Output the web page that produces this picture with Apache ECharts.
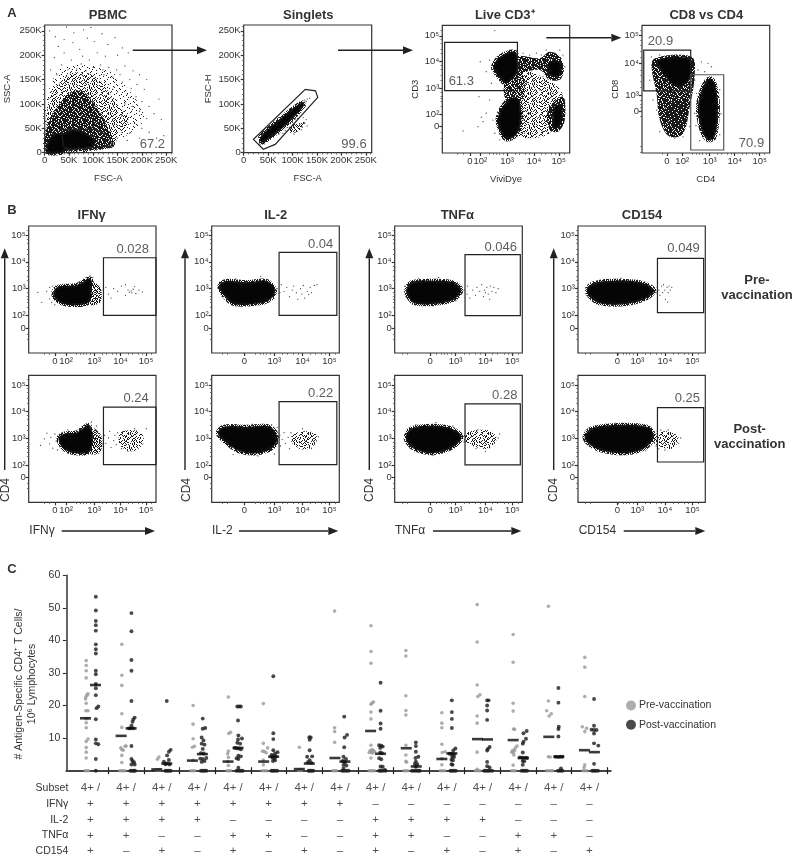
<!DOCTYPE html>
<html>
<head>
<meta charset="utf-8">
<style>html,body{margin:0;padding:0;background:#fff}#chart{width:793px;height:855px}</style>
<script src="https://cdn.jsdelivr.net/npm/echarts@6/dist/echarts.min.js"></script>
</head>
<body>
<div id="chart"></div>
<script>
// ---- axis ticks ----
const kTicks = [0, 50, 100, 150, 200, 250];
const kLabels = ['0', '50K', '100K', '150K', '200K', '250K'];
const kMinor = [10, 20, 30, 40, 60, 70, 80, 90, 110, 120, 130, 140, 160, 170, 180, 190, 210, 220, 230, 240, 260];
const cd3XTicks = [1.57, 1.97, 3, 4.04, 4.99];
const cd3YTicks = [1.53, 1.99, 3, 4.02, 4.98];
const cd8XTicks = [1.29, 1.9, 3, 4, 5];
const cd8YTicks = [2.47, 3, 4.09, 5.02];
const decadeLabels = ['0', '10²', '10³', '10⁴', '10⁵'];
const cd8YLabels = ['0', '10³', '10⁴', '10⁵'];
const bYTicks = [1.53, 1.99, 3, 4.01, 4.99];
const ifnXTicks = [1.5, 1.93, 3, 4.01, 4.99];
const il2XTicks = [1.91, 3, 4.02, 5];
const tnfXTicks = [2.1, 3, 4.05, 5];
const cd154XTicks = [2.27, 3, 4, 5];
const noHundredLabels = ['0', '10³', '10⁴', '10⁵'];
const biexMinor = [1.1, 1.3, 2.3, 2.48, 2.6, 2.7, 2.85, 3.3, 3.48, 3.7, 3.85, 4.3, 4.48, 4.7, 4.85, 5.2];

// ---- panel A: populations (density outlines and single events) ----
const pbmcFaint = [[4, 110], [30, 170], [70, 180], [130, 170], [180, 120], [205, 70], [175, 40], [150, 30], [4, 60]];
const pbmcLight = [[4, 65], [11, 113], [38, 151], [65, 165], [107, 155], [148, 100], [172, 68], [150, 30], [138, 10], [4, 4]];
const pbmcMid = [[4, 0], [4, 52], [21, 86], [45, 117], [76, 127], [107, 93], [128, 55], [141, 24], [137, 10], [38, 3]];
const pbmcCore = [[6, 0], [6, 21], [18, 38], [39, 41], [56, 48], [83, 41], [104, 24], [97, 10], [45, 6], [35, 0]];
const pbmcGate = [[35, 48], [38, 14], [49, 6], [138, 14], [133, 34], [104, 48]];
const pbmcDots = [[10, 250], [22, 238], [45, 258], [60, 246], [80, 252], [95, 257], [28, 218], [40, 205], [58, 226], [72, 212], [88, 235], [102, 228], [118, 244], [130, 222], [145, 236], [160, 215], [172, 205], [150, 200], [125, 198], [108, 205], [92, 190], [75, 182], [55, 190], [35, 180], [20, 195], [12, 170], [25, 160], [48, 170], [66, 172], [85, 168], [100, 175], [115, 180], [132, 175], [148, 170], [165, 178], [182, 168], [195, 160], [210, 150], [205, 130], [190, 140], [175, 150], [160, 145], [140, 155], [122, 160], [150, 125], [170, 120], [188, 115], [200, 105], [215, 95], [225, 80], [240, 68], [210, 70], [195, 85], [180, 95], [165, 100], [185, 60], [200, 50], [215, 42], [230, 30], [245, 35], [195, 30], [175, 40], [160, 55], [170, 25], [150, 30], [158, 75], [140, 130], [125, 140], [105, 150], [90, 150], [70, 155], [50, 150], [30, 140], [18, 125], [8, 110], [235, 110], [120, 170], [78, 198], [40, 232], [155, 160], [178, 132]];

const singletCore = [[33.6, 31], [47, 46], [82, 76], [119, 103], [123, 96], [88.5, 58.5], [54, 31], [37, 20.6]];
const singletSide = [[95, 55], [119, 62], [126, 65], [112.5, 45], [95, 41]];
const singletGate = [[20, 27.5], [40, 7], [64.5, 17], [151.6, 113.5], [147, 127], [126, 130]];
const singletDots = [[120, 103], [125, 108], [130, 110], [135, 112], [128, 105], [112, 100], [116, 92], [110, 85], [105, 80], [98, 72], [100, 62], [105, 68], [110, 70], [115, 58], [120, 52], [125, 60], [118, 47], [108, 44], [130, 55], [95, 60], [90, 52], [85, 45], [70, 50], [60, 36], [50, 28], [42, 18], [33, 16], [72, 38], [80, 40], [128, 68], [103, 38], [122, 72]];

const cd3Light = [[3.42, 3.62], [4.58, 3.3], [5.15, 2.67], [4.64, 1.28], [3.36, 1.28]];
const cd3Band = [[3.42, 4.19], [4.26, 4.13], [4.64, 4.38], [5.09, 4.13], [5.09, 3.37], [4.64, 3.3], [4.26, 3.68], [3.42, 3.62]];
const cd3Column = [[2.91, 3.18], [3.55, 3.62], [3.62, 2.54], [3.03, 2.42]];
const cd3LowRight = [[4.58, 2.16], [5.15, 2.67], [5.22, 1.78], [4.96, 1.34], [4.64, 1.41]];
const cd3Live = [[2.46, 3.81], [2.72, 4.19], [3.29, 4.38], [3.42, 4.06], [3.42, 3.62], [3.1, 3.24], [2.91, 3.18], [2.72, 3.37], [2.53, 3.62]];
const cd3BandCore = [[4.58, 3.94], [5.03, 4], [5.06, 3.49], [4.64, 3.49]];
const cd3Low = [[2.65, 1.91], [3.03, 2.54], [3.42, 2.61], [3.55, 1.78], [3.36, 1.22], [2.97, 1.05], [2.72, 1.41]];
const cd3LowRightCore = [[4.77, 2.23], [5.09, 2.35], [5.09, 1.66], [4.83, 1.47]];
const cd3Gate = [[0.6, 4.73], [3.4, 4.73], [3.4, 2.9], [0.6, 2.9]];
const cd3Dots = [[2.53, 5.18], [1.97, 4], [1.92, 2.67], [2.01, 1.89], [1.88, 1.53], [2.08, 1.72], [1.31, 1.37], [2.2, 2.04], [2.33, 2.54], [2.4, 3.18], [2.2, 3.62], [2.33, 4.06], [4.51, 4.44], [4.32, 4.25], [4.13, 4.32], [3.87, 4.25], [3.62, 4.32], [5.03, 4.44], [5.15, 4.25], [5.22, 3.81], [4.38, 3.43], [4, 3.3], [3.74, 3.18], [2.46, 1.78], [2.53, 1.28], [2.72, 1.03], [3.17, 1.03], [3.68, 1.28], [4.06, 1.53], [4.38, 1.34], [5.22, 2.54], [4.77, 2.8], [4.26, 2.92], [4, 2.54], [3.87, 2.04], [4.26, 1.91]];

const cd8Column = [[0.67, 3.97], [0.8, 4.24], [2.27, 4.3], [2.4, 3.69], [2.2, 2.63], [1.93, 1.74], [1.4, 1.63], [1, 2.19], [0.87, 3.08]];
const cd8Top = [[0.87, 4.19], [2.2, 4.24], [2.27, 3.69], [2.07, 3.41], [1.67, 3.3], [1.27, 3.58], [1.07, 3.8]];
const cd8Lower = [[1.27, 2.74], [2.07, 2.74], [1.93, 1.97], [1.47, 1.97]];
const cd4Core = [[2.73, 3.3], [3, 3.58], [3.2, 3.41], [3.33, 2.63], [3.2, 1.63], [2.93, 1.52], [2.67, 1.86], [2.53, 2.63]];
const cd8Gate = [[0.36, 4.52], [2.24, 4.52], [2.24, 3.16], [0.36, 3.16]];
const cd4Gate = [[2.24, 3.7], [3.56, 3.7], [3.56, 1.19], [2.24, 1.19]];
const cd8Dots = [[0.67, 4.3], [1, 4.36], [1.67, 4.36], [2.33, 4.19], [2.67, 4.13], [2.93, 4.08], [3.07, 3.97], [2.53, 3.86], [2.8, 3.8], [2.4, 3.52], [2.47, 3.08], [2.4, 2.41], [2.2, 1.97], [1.93, 1.63], [1.27, 1.74], [0.87, 2.52], [0.73, 2.86], [0.6, 3.52], [1, 1.8], [1.6, 1.58], [3.4, 3.2], [3.45, 2.4], [2.45, 2], [3.4, 1.7], [2.6, 1.5]];

// ---- panel B: CD4 vs cytokine ----
const ifnPreCore = [[1.45, 2.89], [1.64, 3.08], [2.34, 3.14], [2.85, 3.39], [2.91, 2.89], [2.75, 2.45], [1.83, 2.43], [1.51, 2.64]];
const ifnPreSide = [[2.91, 3.2], [3.23, 3.08], [3.25, 2.51], [2.85, 2.41]];
const ifnPreDots = [[0.85, 2.86], [1, 2.49], [1.19, 2.9], [1.3, 3.05], [1.3, 2.62], [1.4, 3.1], [1.38, 2.48], [1.5, 2.4], [2.4, 3.25], [2.6, 3.35], [2.85, 3.48], [2.95, 3.42], [3.35, 2.95], [3.45, 3.05], [3.55, 2.8], [3.65, 2.65], [3.75, 3], [3.9, 2.9], [4.05, 3.1], [4.2, 2.75], [4.3, 2.95], [4.35, 2.87], [4.42, 2.92], [4.45, 2.85], [4.5, 2.98], [4.55, 3.08], [4.6, 2.82], [4.72, 2.95], [4.85, 2.88], [4.2, 3.15]];
const ifnPostCore = [[1.64, 2.99], [1.89, 3.17], [2.34, 3.21], [2.78, 3.49], [2.95, 3.11], [2.82, 2.49], [2.27, 2.43], [1.83, 2.61]];
const ifnPostSide = [[2.95, 3.36], [3.29, 3.05], [3.23, 2.46], [2.85, 2.43]];
const ifnPostCluster = [[3.99, 3.17], [4.44, 3.3], [4.82, 3.17], [4.89, 2.8], [4.44, 2.49], [3.99, 2.74]];
const ifnPostDots = [[0.95, 2.72], [1.1, 2.97], [1.2, 3.18], [1.3, 2.78], [1.35, 3.02], [1.42, 2.62], [1.5, 3.15], [1.55, 2.88], [1.6, 2.55], [2, 3.3], [2.5, 3.35], [2.9, 3.6], [3.1, 3.45], [3.4, 3.1], [3.45, 2.8], [3.55, 3], [3.6, 3.25], [3.65, 2.65], [3.75, 2.9], [3.8, 3.1], [3.85, 2.75], [3.9, 3.2], [3.95, 2.95], [4.05, 2.6], [4.1, 3.25], [4.3, 2.5], [4.55, 3.35], [5, 3.35]];

const il2PreCore = [[1, 3.14], [1.27, 3.29], [1.99, 3.24], [2.72, 3.29], [3.02, 2.95], [2.9, 2.64], [2.48, 2.45], [1.51, 2.43], [1.15, 2.76]];
const il2PreDots = [[0.95, 3], [1.1, 2.7], [1.6, 2.36], [2.2, 2.38], [2.8, 2.5], [1.6, 3.37], [2.5, 3.45], [3.1, 3], [3.2, 2.85], [3.25, 3.15], [3.35, 2.9], [3.45, 3.05], [3.55, 2.7], [3.65, 2.95], [3.7, 3.1], [3.8, 2.85], [3.85, 2.6], [3.95, 3], [4, 2.8], [4.05, 3.12], [4.1, 2.65], [4.2, 2.9], [4.25, 2.78], [4.3, 3.05], [4.35, 2.85], [4.45, 3.12], [4.55, 3.15]];
const il2PostCore = [[0.94, 3.17], [1.15, 3.42], [1.99, 3.42], [2.84, 3.42], [3.11, 2.99], [2.9, 2.61], [2.36, 2.43], [1.75, 2.49], [1.27, 2.8]];
const il2PostCluster = [[3.65, 3.1], [4.1, 3.25], [4.5, 3.15], [4.5, 2.8], [4.1, 2.55], [3.65, 2.8]];
const il2PostDots = [[1.6, 3.5], [2.2, 3.52], [2.9, 3.5], [3.1, 3.4], [1.5, 2.38], [2.4, 2.33], [3, 2.4], [3.2, 3.1], [3.22, 2.7], [3.28, 2.95], [3.35, 3.2], [3.4, 2.8], [3.5, 3.02], [3.55, 2.6], [3.6, 3.2], [4.6, 3.05], [4.02, 3.35], [4.35, 2.6]];

const tnfPreCore = [[1.26, 2.95], [1.44, 3.24], [2.2, 3.3], [2.91, 3.24], [3.2, 2.95], [2.91, 2.58], [2.2, 2.43], [1.55, 2.45], [1.32, 2.7]];
const tnfPreDots = [[1.2, 3.1], [1.25, 2.7], [1.7, 3.38], [2.4, 3.42], [2.2, 2.36], [3, 2.55], [3.3, 2.95], [3.4, 2.8], [3.42, 3.1], [3.5, 2.65], [3.6, 2.95], [3.7, 2.75], [3.75, 3.05], [3.85, 2.9], [3.92, 3.15], [3.98, 2.7], [4.02, 2.95], [4.05, 2.85], [4.1, 3.05], [4.15, 2.8], [4.2, 2.6], [4.22, 3.1], [4.28, 2.9], [4.35, 3.05], [4.42, 2.85], [4.5, 3]];
const tnfPostCore = [[1.24, 3.05], [1.44, 3.36], [2.2, 3.46], [2.85, 3.36], [3.2, 3.05], [2.91, 2.66], [2.2, 2.43], [1.61, 2.55], [1.32, 2.8]];
const tnfPostCluster = [[3.3, 3.15], [4.1, 3.3], [4.45, 3], [4.15, 2.6], [3.4, 2.8]];
const tnfPostDots = [[1.6, 3.5], [2.3, 3.58], [2.9, 3.45], [2.2, 2.34], [1.4, 2.6], [3.22, 3.1], [3.3, 2.85], [3.72, 2.6], [3.78, 3.3], [4.05, 2.5], [4.5, 3], [4.55, 3.15]];

const cd154PreCore = [[1.17, 2.95], [1.39, 3.2], [2.12, 3.3], [3.08, 3.24], [3.61, 2.95], [3.33, 2.64], [2.6, 2.43], [1.63, 2.45], [1.27, 2.7]];
const cd154PreDots = [[1.12, 3.05], [1.2, 2.7], [1.8, 3.35], [2.4, 3.4], [3, 3.32], [2.2, 2.36], [3.5, 2.75], [3.68, 2.85], [3.72, 3.05], [3.78, 2.95], [3.82, 2.75], [3.88, 3.1], [3.92, 2.85], [3.95, 3.15], [4, 2.95], [4.02, 2.6], [4.08, 3.05], [4.12, 2.85], [4.15, 3.1], [4.2, 2.95], [4.25, 3.05], [4.1, 2.5]];
const cd154PostCore = [[1.08, 3.05], [1.33, 3.36], [2.24, 3.49], [3.33, 3.42], [3.59, 3.11], [3.33, 2.66], [2.6, 2.43], [1.63, 2.55], [1.21, 2.8]];
const cd154PostCluster = [[3.6, 3.1], [4.1, 3.25], [4.5, 3], [4.25, 2.6], [3.6, 2.8]];
const cd154PostDots = [[1.5, 3.45], [2.2, 3.56], [3.2, 3.5], [2.4, 2.36], [3.3, 2.52], [3.68, 2.7], [3.72, 3.25], [3.78, 2.6], [3.85, 3.3], [4, 2.55], [4.12, 3.3], [4.5, 2.8], [4.58, 3]];

const ifnGate = [[3.36, 4.16], [5.37, 4.16], [5.37, 2], [3.36, 2]];
const il2Gate = [[3.17, 4.36], [5.27, 4.36], [5.27, 2], [3.17, 2]];
const tnfGate = [[3.33, 4.28], [5.28, 4.28], [5.28, 1.99], [3.33, 1.99]];
const cd154Gate = [[3.73, 4.14], [5.41, 4.14], [5.41, 2.1], [3.73, 2.1]];

// ---- panel C: subsets ----
const groupEdges = [1.5, 2.5, 3.5, 4.5, 5.5, 6.5, 7.5, 8.5, 9.5, 10.5, 11.5, 12.5, 13.5, 14.5, 15.5];
const yTickValues = [10, 20, 30, 40, 50, 60];
const subsetRowNames = ['Subset', 'IFNγ', 'IL-2', 'TNFα', 'CD154'];
const subsetLabel = '4+ /';
const ifnRow = ['+', '+', '+', '+', '+', '+', '+', '+', '–', '–', '–', '–', '–', '–', '–'];
const il2Row = ['+', '+', '+', '+', '–', '–', '–', '–', '+', '+', '+', '+', '–', '–', '–'];
const tnfRow = ['+', '+', '–', '–', '+', '+', '–', '–', '+', '+', '–', '–', '+', '+', '–'];
const cd154Row = ['+', '–', '+', '–', '+', '–', '+', '–', '+', '–', '+', '–', '+', '–', '+'];
const medianPre = [16.1, 10.7, 0.4, 3.1, 2.8, 2.8, 0.5, 3.9, 12.2, 6.9, 3.6, 9.7, 9.4, 10.4, 6.3];
const medianPost = [26.3, 13, 2.2, 5.1, 7, 4.3, 2.2, 2.8, 5.2, 1.3, 5.3, 9.6, 3.9, 4.3, 5.7];
const preValues = [
  [0.88, 33.8], [0.88, 32.3], [0.88, 30.7], [0.88, 28.5], [0.93, 23.6], [0.9, 23.2], [0.87, 22.6], [0.86, 22], [0.88, 20.7], [0.87, 18.4], [0.93, 18.4], [0.87, 16], [0.92, 16], [0.88, 14.7], [0.88, 13.2], [0.93, 9.7], [0.88, 9], [0.88, 7.1], [0.88, 5.7], [0.88, 3.9], [0.86, 0], [0.9, 0], [0.94, 0],
  [1.88, 38.8], [1.88, 29.3], [1.88, 26.2], [1.88, 17.5], [1.88, 13.3], [2, 7.6], [1.97, 7.5], [1.85, 7], [1.88, 6.5], [1.92, 6.3], [1.88, 4.7], [1.88, 2.5], [1.82, 0], [1.87, 0], [1.92, 0], [1.96, 0],
  [2.92, 4.2], [2.88, 3.5], [2.85, 0.3], [2.9, 0.3], [2.95, 0.3],
  [3.88, 20], [3.88, 14.3], [3.88, 9.8], [3.86, 7.2], [3.92, 7.5], [3.88, 3.2], [3.82, 0], [3.87, 0], [3.92, 0],
  [4.87, 22.6], [4.93, 11.8], [4.88, 11.4], [4.87, 6], [4.85, 5.2], [4.87, 4.1], [4.85, 2.8], [4.87, 1.6], [4.83, 0], [4.88, 0], [4.93, 0],
  [5.85, 20.6], [5.85, 8.4], [5.97, 7], [5.83, 6], [5.88, 5.9], [5.93, 5.5], [5.85, 3.3], [5.85, 1.8], [5.82, 0], [5.88, 0], [5.95, 0],
  [6.86, 7.2], [6.83, 0.2], [6.88, 0.2], [6.93, 0.2],
  [7.85, 49], [7.85, 13.2], [7.85, 12], [7.85, 8.7], [7.8, 0], [7.85, 0], [7.9, 0],
  [8.87, 44.5], [8.87, 36.6], [8.87, 33], [8.94, 21.1], [8.9, 20.8], [8.87, 20.4], [8.87, 18], [8.87, 15.9], [8.87, 7.8], [8.85, 6.2], [8.9, 6.4], [8.93, 6.3], [8.97, 5.9], [8.87, 5.6], [8.92, 5.4], [8.82, 5.6], [8.87, 3.9], [8.82, 0], [8.87, 0], [8.92, 0], [8.96, 0],
  [9.85, 36.9], [9.85, 35.2], [9.85, 23], [9.85, 18.5], [9.85, 17.1], [9.85, 7.8], [9.85, 4.8], [9.85, 2.9], [9.87, 2.6], [9.8, 0], [9.85, 0], [9.9, 0],
  [10.86, 17.8], [10.86, 14.6], [10.86, 13.2], [10.86, 8.1], [10.87, 5.6], [10.95, 5.8], [10.86, 3.7], [10.86, 1.8], [10.82, 0], [10.87, 0], [10.93, 0],
  [11.85, 51], [11.85, 39.5], [11.85, 26.3], [11.93, 23.3], [11.87, 22.8], [11.85, 16.8], [11.85, 14.6], [11.85, 5.7], [11.85, 0.4], [11.8, 0], [11.87, 0], [11.92, 0],
  [12.86, 41.8], [12.86, 33.3], [12.86, 20.7], [12.86, 18.3], [12.87, 12.8], [12.9, 12.7], [12.97, 7.6], [12.92, 7], [12.85, 6.3], [12.9, 6.2], [12.87, 5.5], [12.82, 5.7], [12.88, 4.8], [12.86, 1.7], [12.82, 0], [12.87, 0], [12.92, 0],
  [13.85, 50.5], [13.85, 21.4], [13.8, 18.4], [13.93, 17.5], [13.87, 16.8], [13.85, 4.3], [13.9, 4.2], [13.8, 0], [13.86, 0], [13.92, 0], [13.96, 0],
  [14.87, 34.8], [14.87, 31.8], [14.87, 22.8], [14.8, 13.5], [14.92, 13], [14.87, 12], [14.87, 1.8], [14.85, 1], [14.82, 0], [14.87, 0], [14.93, 0]
];
const postValues = [
  [1.15, 53.4], [1.15, 49.2], [1.15, 46], [1.15, 44.7], [1.15, 43], [1.15, 38.8], [1.15, 37.3], [1.15, 36], [1.15, 30.7], [1.15, 29.6], [1.15, 26.6], [1.15, 25.3], [1.15, 23.2], [1.22, 19.7], [1.17, 19.2], [1.15, 15.8], [1.15, 9.6], [1.15, 8.4], [1.22, 8.1], [1.15, 3.6], [1.15, 0],
  [2.15, 48.4], [2.15, 42.8], [2.15, 34], [2.15, 30.7], [2.15, 21.4], [2.24, 16.3], [2.2, 15.7], [2.18, 15], [2.15, 13.8], [2.08, 13], [2.12, 13], [2.2, 13], [2.15, 7.6], [2.15, 3.6], [2.18, 3], [2.22, 2.6], [2.15, 1.9], [2.24, 1.9], [2.12, 0], [2.17, 0], [2.22, 0], [2.25, 0],
  [3.14, 21.4], [3.25, 6.4], [3.2, 5.8], [3.15, 4.7], [3.2, 3.3], [3.06, 2.8], [3.1, 2], [3.15, 2.2], [3.22, 1.9], [3.1, 0], [3.15, 0], [3.2, 0], [3.25, 0],
  [4.15, 16], [4.15, 12.9], [4.22, 13.1], [4.12, 10.2], [4.17, 9.3], [4.12, 8.3], [4.2, 8], [4.15, 6.7], [4.1, 5.4], [4.18, 5.3], [4.08, 3.7], [4.15, 3.6], [4.25, 3.9], [4.2, 3], [4.12, 2.7], [4.1, 0], [4.15, 0], [4.2, 0], [4.25, 0],
  [5.12, 19.7], [5.17, 19.7], [5.22, 19.7], [5.14, 15.4], [5.15, 10.8], [5.25, 9.9], [5.14, 9.6], [5.12, 8.6], [5.2, 8.3], [5.05, 7], [5.1, 6.9], [5.16, 6.8], [5.22, 6.6], [5.15, 4.6], [5.22, 4.4], [5.1, 3.8], [5.15, 3.6], [5.15, 0.9], [5.1, 0], [5.16, 0], [5.22, 0], [5.27, 0],
  [6.13, 29], [6.13, 11.5], [6.13, 9.7], [6.13, 6.3], [6.25, 5.7], [6.18, 5.3], [6.08, 4.8], [6.13, 4.6], [6.2, 4.4], [6.1, 4], [6.16, 3.8], [6.12, 3], [6.18, 3.2], [6.08, 0], [6.13, 0], [6.18, 0], [6.24, 0],
  [7.14, 10.3], [7.18, 10.2], [7.15, 9.5], [7.15, 6.3], [7.08, 4.3], [7.22, 4.4], [7.15, 3.2], [7.1, 2.6], [7.2, 2.4], [7.12, 0], [7.16, 0], [7.2, 0], [7.25, 0],
  [8.12, 16.6], [8.2, 11], [8.13, 10.2], [8.12, 7.2], [8.1, 4.3], [8.17, 3.6], [8.08, 3], [8.14, 2.6], [8.1, 1.8], [8.18, 1.6], [8.1, 0.8], [8.06, 0], [8.12, 0], [8.18, 0], [8.24, 0],
  [9.14, 27], [9.14, 18.4], [9.14, 14.5], [9.14, 12.9], [9.1, 7.8], [9.16, 7.7], [9.2, 7.4], [9.13, 7], [9.13, 5.6], [9.18, 5.4], [9.1, 3.8], [9.16, 3.5], [9.14, 1.3], [9.2, 1.2], [9.1, 0], [9.15, 0], [9.2, 0], [9.26, 0.2], [9.28, 0],
  [10.13, 8.7], [10.13, 7.6], [10.13, 5.8], [10.2, 4.3], [10.12, 3.9], [10.13, 2.8], [10.1, 2.1], [10.17, 2], [10.13, 1.2], [10.02, 0], [10.08, 0], [10.14, 0], [10.2, 0], [10.24, 0],
  [11.14, 21.6], [11.14, 18], [11.14, 15.9], [11.14, 13.1], [11.24, 6.8], [11.18, 6.2], [11.08, 5.2], [11.13, 5.2], [11.2, 5], [11.15, 4.3], [11.2, 4.2], [11.13, 3.4], [11.17, 3.2], [11.13, 2], [11.16, 1.8], [11.1, 0], [11.15, 0], [11.2, 0], [11.25, 0],
  [12.13, 21.6], [12.17, 21.6], [12.13, 20], [12.13, 18.5], [12.13, 15.6], [12.2, 7.3], [12.15, 6.7], [12.13, 6.2], [12.13, 2.7], [12.13, 1.4], [12.2, 1], [12.05, 0], [12.1, 0], [12.15, 0], [12.2, 0], [12.27, 0],
  [13.24, 12.2], [13.15, 11.5], [13.22, 9.8], [13.15, 8.9], [13.13, 8.3], [13.13, 5.6], [13.05, 4.1], [13.12, 4], [13.2, 4], [13.25, 3.9], [13.13, 3], [13.17, 2.9], [13.13, 1.8], [13.1, 0], [13.15, 0], [13.2, 0], [13.25, 0],
  [14.13, 25.4], [14.13, 20.9], [14.14, 13.5], [14.13, 12.8], [14.13, 10.5], [14.05, 4.3], [14.12, 4.2], [14.18, 4.3], [14.24, 4.3], [14.2, 0.7], [14.12, 0], [14.18, 0], [14.24, 0],
  [15.13, 22], [15.13, 13.8], [15.06, 12.6], [15.13, 12.5], [15.2, 12.5], [15.13, 11.4], [15.13, 8.4], [15.25, 7.7], [15.13, 2.1], [15.08, 0], [15.13, 0], [15.18, 0], [15.24, 0]
];

// ---- stipple tiles for the dense regions (fixed map, a pixel is on when its digit < level) ----
const stippleMap = [
  '38150726493817260594', '72964013857240961382', '15830692174965038271', '90427158360817294563',
  '46193825079326150847', '83750164928451736092', '21086479315960842735', '67392840516273098154',
  '54718293604187365920', '09265731842506917483', '31847062951378240695', '86520917346092581374',
  '42093685170746329158', '75168340292815760943', '10934576281439027865', '68271905437162584390',
  '93406218759024671538', '27589143060385916724', '04316782915670243189', '59742630184927508361'
];
const tiles = {};
function stipple(level) {
  if (!tiles[level]) {
    const c = document.createElement('canvas');
    c.width = c.height = stippleMap.length;
    const ctx = c.getContext('2d');
    ctx.fillStyle = '#1a1a1a';
    stippleMap.forEach((row, y) => [...row].forEach((d, x) => {
      if (+d < level) ctx.fillRect(x, y, 1, 1);
    }));
    tiles[level] = { image: c, repeat: 'repeat' };
  }
  return tiles[level];
}

// ---- option building ----
const INK = '#333';
const FONT = '"Liberation Sans", Arial, sans-serif';
const grid = [], xAxis = [], yAxis = [], series = [], graphic = [];

function axisOf(gridIndex, position, range, ticks, labels, name, gap, minor) {
  return [{
    type: 'value', gridIndex, position, min: range[0], max: range[1],
    splitLine: { show: false }, axisLine: { show: false },
    axisTick: { show: true, length: 3, lineStyle: { color: INK, width: 1.2 }, customValues: ticks },
    axisLabel: { customValues: ticks, formatter: v => labels[ticks.indexOf(v)], fontSize: 9.5, color: INK, margin: 3 },
    name, nameLocation: 'middle', nameGap: gap, nameTextStyle: { fontSize: 9.5, color: INK }
  }, {
    type: 'value', gridIndex, position, min: range[0], max: range[1],
    splitLine: { show: false }, axisLine: { show: false },
    axisTick: { show: true, length: 1.8, lineStyle: { color: '#555', width: 0.8 }, customValues: minor },
    axisLabel: { show: false }
  }];
}

function makePanel(p) {
  const i = grid.length;
  grid.push({ left: p.box[0], top: p.box[1], width: p.box[2] - p.box[0], height: p.box[3] - p.box[1], outerBoundsMode: 'none', show: true, borderColor: INK, borderWidth: 1.2 });
  const x = xAxis.length, y = yAxis.length;
  xAxis.push(...axisOf(i, 'bottom', p.xRange, p.xTicks, p.xLabels, p.xName, p.xGap, p.xMinor));
  yAxis.push(...axisOf(i, 'left', p.yRange, p.yTicks, p.yLabels, p.yName, p.yGap, p.yMinor));
  return { x, y };
}

// level is a stipple density, or 'core' for a saturated black region with a grainy rim
function shape(g, points, level) {
  const style = level === 'core'
    ? { fill: '#050505', stroke: stipple(6), lineWidth: 4 }
    : { fill: stipple(level) };
  series.push({
    type: 'custom', xAxisIndex: g.x, yAxisIndex: g.y, silent: true, z: 2,
    data: [points[0]],
    renderItem: (params, api) => ({
      type: 'polygon',
      shape: { points: points.map(q => api.coord(q)), smooth: 0.35 },
      style
    })
  });
}

function gate(g, points, color) {
  series.push({
    type: 'custom', xAxisIndex: g.x, yAxisIndex: g.y, silent: true, z: 4,
    data: [points[0]],
    renderItem: (params, api) => ({
      type: 'polygon',
      shape: { points: points.map(q => api.coord(q)) },
      style: { fill: 'none', stroke: color || '#222', lineWidth: 1.2 }
    })
  });
}

function dots(g, values) {
  series.push({
    type: 'scatter', xAxisIndex: g.x, yAxisIndex: g.y, silent: true, z: 3,
    data: values, symbolSize: 1.3, itemStyle: { color: '#1a1a1a' }
  });
}

function percent(g, x, y, text) {
  series.push({
    type: 'scatter', xAxisIndex: g.x, yAxisIndex: g.y, silent: true, z: 5,
    data: [{ value: [x, y], name: text }], symbolSize: 1, itemStyle: { color: 'rgba(0,0,0,0)' },
    label: { show: true, position: 'inside', formatter: '{b}', fontSize: 13, color: INK }
  });
}

function text(x, y, str, size, weight, align, rotation) {
  graphic.push({
    type: 'text', x, y, rotation: rotation || 0, silent: true,
    style: { text: str, fill: INK, font: `${weight || 'normal'} ${size}px ${FONT}`, textAlign: align || 'center', textVerticalAlign: 'middle' }
  });
}

function arrow(x1, y1, x2, y2) {
  const dx = Math.sign(x2 - x1), dy = Math.sign(y2 - y1), L = 10, W = 4;
  graphic.push({ type: 'line', silent: true, shape: { x1, y1, x2: x2 - dx * L, y2: y2 - dy * L }, style: { stroke: '#222', lineWidth: 1.4 } });
  graphic.push({
    type: 'polygon', silent: true,
    shape: { points: [[x2, y2], [x2 - dx * L - dy * W, y2 - dy * L - dx * W], [x2 - dx * L + dy * W, y2 - dy * L + dx * W]] },
    style: { fill: '#222' }
  });
}

// panel A
const kAxes = { xRange: [0, 262], yRange: [0, 262], xTicks: kTicks, yTicks: kTicks, xLabels: kLabels, yLabels: kLabels, xMinor: kMinor, yMinor: kMinor, xGap: 21 };
const pbmc = makePanel({ ...kAxes, box: [44.7, 25, 172, 152.7], xName: 'FSC-A', yName: 'SSC-A', yGap: 32 });
shape(pbmc, pbmcFaint, 1);
shape(pbmc, pbmcLight, 3);
shape(pbmc, pbmcMid, 8);
shape(pbmc, pbmcCore, 'core');
dots(pbmc, pbmcDots);
gate(pbmc, pbmcGate);
percent(pbmc, 221.6, 17.2, '67.2');

const singlets = makePanel({ ...kAxes, box: [243.7, 25, 371.7, 152.7], xName: 'FSC-A', yName: 'FSC-H', yGap: 30 });
shape(singlets, singletSide, 4);
shape(singlets, singletCore, 'core');
dots(singlets, singletDots);
gate(singlets, singletGate);
percent(singlets, 225.7, 17.2, '99.6');

const cd3 = makePanel({ box: [442.3, 25.3, 569.7, 153], xRange: [0.51, 5.41], yRange: [0.53, 5.38], xTicks: cd3XTicks, yTicks: cd3YTicks, xLabels: decadeLabels, yLabels: decadeLabels, xMinor: biexMinor, yMinor: biexMinor, xName: 'ViviDye', yName: 'CD3', xGap: 21, yGap: 18 });
shape(cd3, cd3Light, 3);
shape(cd3, cd3Band, 8);
shape(cd3, cd3Column, 7);
shape(cd3, cd3LowRight, 8);
shape(cd3, cd3Live, 'core');
shape(cd3, cd3BandCore, 'core');
shape(cd3, cd3Low, 'core');
shape(cd3, cd3LowRightCore, 'core');
dots(cd3, cd3Dots);
gate(cd3, cd3Gate);
percent(cd3, 1.24, 3.23, '61.3');

const cd8 = makePanel({ box: [642, 25.3, 769.7, 153], xRange: [0.29, 5.4], yRange: [1.09, 5.35], xTicks: cd8XTicks, yTicks: cd8YTicks, xLabels: decadeLabels, yLabels: cd8YLabels, xMinor: biexMinor, yMinor: biexMinor, xName: 'CD4', yName: 'CD8', xGap: 21, yGap: 18 });
shape(cd8, cd8Column, 8);
shape(cd8, cd8Lower, 9);
shape(cd8, cd8Top, 'core');
shape(cd8, cd4Core, 'core');
dots(cd8, cd8Dots);
gate(cd8, cd8Gate);
gate(cd8, cd4Gate, '#555');
percent(cd8, 1.03, 4.8, '20.9');
percent(cd8, 4.67, 1.41, '70.9');

// panel B
const rowTops = [[226, 353], [375.3, 502.3]];
const columns = [
  { box: [28.7, 156], range: [0.5, 5.37], ticks: ifnXTicks, labels: decadeLabels, gate: ifnGate,
    pre: { core: ifnPreCore, side: ifnPreSide, dots: ifnPreDots, at: [4.48, 4.49], pct: '0.028' },
    post: { core: ifnPostCore, side: ifnPostSide, cluster: ifnPostCluster, dots: ifnPostDots, at: [4.61, 4.49], pct: '0.24' } },
  { box: [211.7, 339.3], range: [0.72, 5.36], ticks: il2XTicks, labels: noHundredLabels, gate: il2Gate,
    pre: { core: il2PreCore, dots: il2PreDots, at: [4.68, 4.66], pct: '0.04' },
    post: { core: il2PostCore, cluster: il2PostCluster, dots: il2PostDots, at: [4.68, 4.66], pct: '0.22' } },
  { box: [394.7, 522.3], range: [0.85, 5.35], ticks: tnfXTicks, labels: noHundredLabels, gate: tnfGate,
    pre: { core: tnfPreCore, dots: tnfPreDots, at: [4.59, 4.55], pct: '0.046' },
    post: { core: tnfPostCore, cluster: tnfPostCluster, dots: tnfPostDots, at: [4.73, 4.61], pct: '0.28' } },
  { box: [578, 705.3], range: [0.84, 5.47], ticks: cd154XTicks, labels: noHundredLabels, gate: cd154Gate,
    pre: { core: cd154PreCore, dots: cd154PreDots, at: [4.68, 4.5], pct: '0.049' },
    post: { core: cd154PostCore, cluster: cd154PostCluster, dots: cd154PostDots, at: [4.82, 4.5], pct: '0.25' } }
];
columns.forEach(col => {
  [col.pre, col.post].forEach((row, r) => {
    const g = makePanel({
      box: [col.box[0], rowTops[r][0], col.box[1], rowTops[r][1]],
      xRange: col.range, yRange: [0.59, 5.35], xTicks: col.ticks, yTicks: bYTicks,
      xLabels: col.labels, yLabels: decadeLabels, xMinor: biexMinor, yMinor: biexMinor
    });
    if (row.cluster) shape(g, row.cluster, 3);
    if (row.side) shape(g, row.side, 5);
    shape(g, row.core, 'core');
    dots(g, row.dots);
    gate(g, col.gate);
    percent(g, row.at[0], row.at[1], row.pct);
  });
});

// panel C: dots
grid.push({ left: 66.3, top: 575.3, width: 544.5, height: 195.4, outerBoundsMode: 'none' });
const cGrid = grid.length - 1, cx = xAxis.length, cy = yAxis.length;
xAxis.push({
  type: 'value', gridIndex: cGrid, position: 'bottom', min: 0.3215, max: 15.6, splitLine: { show: false },
  axisLine: { show: true, lineStyle: { color: '#444', width: 1.8 } },
  axisTick: { show: true, length: 3.5, lineStyle: { color: '#222', width: 1.2 }, customValues: groupEdges },
  axisLabel: { show: false }
}, {
  type: 'value', gridIndex: cGrid, position: 'bottom', min: 0.3215, max: 15.6, splitLine: { show: false }, axisLine: { show: false },
  axisTick: { show: true, inside: true, length: 3.5, lineStyle: { color: '#222', width: 1.2 }, customValues: groupEdges },
  axisLabel: { show: false }
});
yAxis.push({
  type: 'value', gridIndex: cGrid, min: 0, max: 60, splitLine: { show: false },
  axisLine: { show: true, lineStyle: { color: '#555', width: 1.8 } },
  axisTick: { show: true, length: 3.5, lineStyle: { color: '#333', width: 1.1 }, customValues: yTickValues },
  axisLabel: { customValues: yTickValues, fontSize: 10.5, color: INK, margin: 6 }
});
const dotStyle = { type: 'scatter', xAxisIndex: cx, yAxisIndex: cy, clip: false, silent: true, z: 4 };
series.push({ ...dotStyle, name: 'Pre-vaccination', data: preValues, symbolSize: 3.6, itemStyle: { color: '#999' } });
series.push({ ...dotStyle, name: 'Post-vaccination', data: postValues, symbolSize: 3.9, itemStyle: { color: '#1c1c1c' } });
const medianStyle = { type: 'scatter', xAxisIndex: cx, yAxisIndex: cy, clip: false, symbol: 'rect', symbolSize: [11, 2.6], silent: true, z: 5, itemStyle: { color: '#0a0a0a' } };
series.push({ ...medianStyle, data: medianPre.map((v, i) => [i + 1 - 0.14, v]) });
series.push({ ...medianStyle, data: medianPost.map((v, i) => [i + 1 + 0.14, v]) });

// panel C: table under the axis
grid.push({ left: 70.3, top: 780.4, width: 540.5, height: 74.6, outerBoundsMode: 'none' });
const tGrid = grid.length - 1, tx = xAxis.length, ty = yAxis.length;
const rowIndex = subsetRowNames.map((n, i) => i);
xAxis.push({ type: 'value', gridIndex: tGrid, min: 0.4337, max: 15.6, show: false });
yAxis.push({
  type: 'value', gridIndex: tGrid, inverse: true, min: -0.5, max: 4.25,
  axisLine: { show: false }, axisTick: { show: false }, splitLine: { show: false },
  axisLabel: { customValues: rowIndex, formatter: v => subsetRowNames[v], fontSize: 10.5, color: INK, margin: 2 }
});
const tableRows = [ifnRow.map(() => subsetLabel), ifnRow, il2Row, tnfRow, cd154Row];
series.push({
  type: 'scatter', xAxisIndex: tx, yAxisIndex: ty, silent: true, symbolSize: 1, clip: false,
  itemStyle: { color: 'rgba(0,0,0,0)' },
  data: tableRows.flatMap((row, r) => row.map((s, i) => [i + 1, r, s])),
  label: { show: true, position: 'inside', formatter: p => p.value[2], fontSize: 11.5, color: '#222' }
});

// free text and arrows
text(12, 13, 'A', 13, 'bold');
text(12, 210, 'B', 13, 'bold');
text(12, 569, 'C', 13, 'bold');
[['PBMC', 108, 15], ['Singlets', 308.3, 15], ['Live CD3⁺', 504.7, 15], ['CD8 vs CD4', 706.3, 15],
 ['IFNγ', 91.7, 215.7], ['IL-2', 275.7, 215.7], ['TNFα', 457.3, 215.7], ['CD154', 642, 215.7],
 ['Pre-', 757, 280], ['vaccination', 757, 295.3], ['Post-', 749.7, 429.3], ['vaccination', 749.7, 444.7]
].forEach(t => text(t[1], t[2], t[0], 13, 'bold'));
arrow(132.7, 50.3, 207, 50.3);
arrow(338, 50.3, 413, 50.3);
arrow(546.3, 37.7, 621.3, 37.7);
[[4.7, 6], [185, 186.7], [369.3, 370], [553.7, 553.7]].forEach(a => {
  arrow(a[0], 470, a[0], 248.3);
  text(a[1], 490, 'CD4', 12, 'normal', 'center', Math.PI / 2);
});
[['IFNγ', 29.3, 61.7, 155], ['IL-2', 212, 239, 338.3], ['TNFα', 395, 433, 521.3], ['CD154', 578.7, 623.7, 705.3]].forEach(a => {
  text(a[1], 531, a[0], 12, 'normal', 'left');
  arrow(a[2], 531, a[3], 531);
});
text(19.3, 684, '# Antigen-Specific CD4⁺ T Cells/', 10.5, 'normal', 'center', Math.PI / 2);
text(31.7, 684, '10⁶ Lymphocytes', 10.5, 'normal', 'center', Math.PI / 2);

const chart = echarts.init(document.getElementById('chart'), null, { renderer: 'canvas' });
chart.setOption({
  animation: false,
  backgroundColor: '#fff',
  textStyle: { fontFamily: FONT },
  grid, xAxis, yAxis, series, graphic,
  legend: {
    left: 626, top: 700, orient: 'vertical', padding: 0, itemWidth: 10, itemHeight: 10, itemGap: 8.3,
    icon: 'circle', selectedMode: false,
    data: ['Pre-vaccination', 'Post-vaccination'],
    textStyle: { fontSize: 10.5, color: INK, padding: [0, 0, 0, -2] }
  }
});
</script>
</body>
</html>
